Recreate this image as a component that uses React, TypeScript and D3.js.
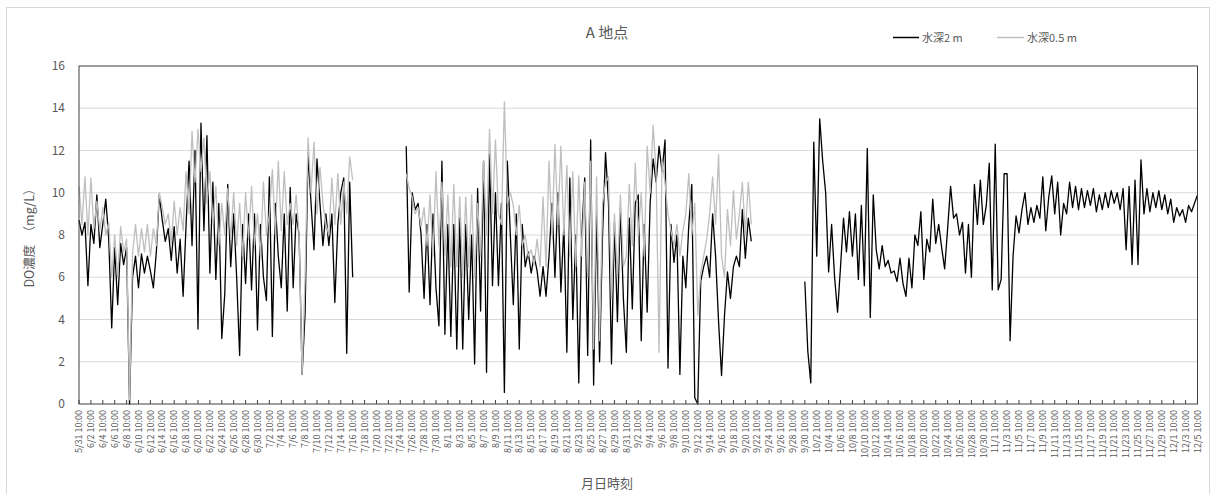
import React from "react";
import * as d3 from "d3";

// ---- data (values every 12 h) ----
const startDate = new Date(2021, 4, 31, 10, 0); // 5/31 10:00
const totalDays = 188; // to 12/5 10:00
const stepDays = 0.5;

const yTicks = [0, 2, 4, 6, 8, 10, 12, 14, 16];

// 水深2 m (black)
const deep2mSeg1Start = 0;
const deep2mSeg1 = [
  8.7, 8.0, 8.6, 5.6, 8.5, 7.6, 9.9, 7.4, 8.5, 9.7,
  7.8, 3.6, 7.4, 4.7, 7.6, 6.6, 7.4, 0.0, 6.0, 7.0,
  5.5, 7.1, 6.2, 7.0, 6.3, 5.5, 7.2, 9.9, 8.7, 7.7,
  8.3, 6.8, 8.4, 6.2, 7.8, 5.1, 8.5, 11.5, 7.5, 12.0,
  3.55, 13.3, 8.2, 12.7, 6.2, 10.5, 5.9, 9.5, 3.1, 5.2,
  10.4, 6.5, 9.0, 6.0, 2.3, 8.5, 5.7, 9.0, 5.4, 9.0,
  3.5, 8.5, 6.0, 4.9, 10.75, 3.2, 9.5, 7.0, 5.5, 9.0,
  4.4, 10.25, 5.5, 9.0, 8.0, 1.4, 4.3, 11.9, 9.5, 7.3,
  11.6, 9.5, 7.5, 9.0, 7.5, 9.0, 4.8, 8.5, 10.0, 10.7,
  2.4, 10.5, 6.0,
];
const deep2mSeg2Start = 55;
const deep2mSeg2 = [
  12.2, 5.3, 10.0, 9.2, 9.5, 8.0, 5.0, 8.5, 4.7, 9.0,
  5.5, 3.7, 11.5, 3.3, 8.5, 3.2, 8.5, 2.6, 8.8, 2.6,
  8.5, 4.0, 8.0, 1.9, 10.2, 4.4, 11.5, 1.5, 11.8, 5.6,
  10.0, 5.6, 9.5, 0.55, 11.5, 8.0, 4.7, 9.0, 2.6, 8.5,
  6.5, 7.2, 6.2, 7.0, 6.3, 5.1, 6.5, 5.1, 7.0, 9.5,
  6.0, 10.0, 5.3, 8.5, 2.45, 10.7, 4.0, 8.0, 1.0, 8.0,
  10.7, 2.3, 12.5, 0.9, 9.0, 2.0, 8.0, 11.9, 9.5, 1.9,
  8.6, 3.9, 9.3, 5.0, 2.45, 8.8, 4.5, 9.5, 9.9, 3.0,
  8.5, 4.35, 9.5, 11.6, 10.5, 12.2, 11.0, 12.5, 1.7, 8.5,
  6.7, 8.0, 1.4, 7.0, 5.5, 8.5, 10.4, 0.3, 0.0, 5.8,
  6.5, 7.0, 6.0, 9.0, 7.0, 3.9, 1.35, 4.2, 6.25, 5.0,
  6.5, 7.0, 6.5, 9.2, 6.9, 8.8, 7.7,
];
const deep2mSeg3Start = 122;
const deep2mSeg3 = [
  5.8, 2.5, 1.0, 12.4, 7.0, 13.5, 11.5, 10.0, 6.25, 8.5,
  6.0, 4.35, 6.5, 8.8, 7.2, 9.1, 7.0, 9.0, 5.9, 9.4,
  5.6, 12.1, 4.1, 9.9, 7.3, 6.4, 7.5, 6.5, 6.8, 6.2,
  6.3, 5.8, 6.9, 5.7, 5.1, 6.9, 5.5, 8.0, 7.5, 9.1,
  5.9, 7.8, 7.2, 9.7, 7.6, 8.5, 7.4, 6.4, 8.3, 10.3,
  8.8, 9.0, 8.0, 8.6, 6.2, 8.5, 6.0, 10.4, 8.5, 10.6,
  8.5, 9.4, 11.4, 5.4, 12.3, 5.4, 5.9, 10.9, 10.9, 3.0,
  7.0, 8.9, 8.1, 9.2, 10.0, 8.5, 9.3, 8.6, 9.4, 8.8,
  10.75, 8.2, 9.8, 10.8, 9.0, 10.5, 8.0, 9.5, 9.0, 10.5,
  9.3, 10.3, 9.2, 10.2, 9.3, 10.1, 9.4, 10.2, 9.1, 9.9,
  9.2, 10.0, 9.3, 10.1, 9.5, 10.0, 9.2, 10.2, 7.3, 10.3,
  6.6, 10.6, 6.6, 11.55, 9.0, 10.2, 9.1, 10.0, 9.3, 10.1,
  9.2, 9.9, 9.0, 9.7, 8.6, 9.3, 8.9, 9.2, 8.6, 9.4,
  9.1, 9.5, 9.9,
];

// 水深0.5 m (gray)
const shallowSeg1Start = 0;
const shallowSeg1 = [
  10.3, 8.5, 10.75, 8.0, 10.7, 8.3, 9.6, 8.2, 9.3, 8.0,
  8.6, 6.0, 8.0, 6.0, 8.4, 7.2, 7.8, 0.2, 7.1, 8.5,
  7.0, 8.3, 7.2, 8.5, 7.0, 8.3, 7.5, 10.0, 9.3, 8.5,
  9.0, 7.6, 9.6, 8.0, 9.3, 8.2, 11.0, 9.0, 12.9, 10.5,
  13.0, 11.0, 12.6, 9.5, 11.0, 8.5, 10.3, 7.5, 9.5, 8.0,
  10.2, 7.8, 10.0, 7.5, 9.5, 7.0, 10.0, 7.8, 10.3, 7.5,
  9.0, 7.0, 10.5, 8.0, 9.0, 11.1, 8.0, 11.5, 8.2, 11.0,
  8.5, 9.5, 8.5, 9.9, 8.0, 1.4, 6.0, 12.6, 10.0, 12.4,
  9.0, 11.2, 9.5, 8.5, 8.0, 10.7, 8.5, 10.9, 8.5, 10.5,
  9.0, 11.7, 10.6,
];
const shallowSeg2Start = 55;
const shallowSeg2 = [
  10.9, 10.2, 9.8, 9.0, 9.3, 8.4, 9.3, 7.5, 9.9, 7.0,
  11.0, 7.5, 10.5, 7.0, 9.9, 6.5, 10.4, 6.5, 9.8, 6.0,
  9.8, 6.5, 9.9, 6.0, 9.5, 7.0, 11.5, 8.0, 13.0, 9.0,
  12.5, 9.0, 8.5, 14.3, 9.5, 10.0, 9.4, 8.0, 9.4, 7.5,
  8.0, 7.0, 7.3, 6.6, 7.8, 6.5, 9.8, 6.5, 11.5, 8.0,
  12.3, 8.5, 12.2, 8.0, 11.3, 7.0, 11.0, 6.5, 10.8, 7.0,
  10.5, 6.0, 11.5, 2.6, 10.75, 3.0, 9.5, 10.5, 10.75, 5.0,
  9.0, 6.0, 9.9, 6.5, 7.0, 10.4, 7.5, 11.4, 8.0, 10.0,
  7.0, 12.2, 10.0, 13.2, 11.0, 2.45, 11.5, 10.5, 9.0, 8.2,
  7.5, 8.5, 7.0, 8.2, 9.0, 10.9, 8.0, 9.5, 4.2, 6.2,
  7.0, 7.8, 9.0, 10.75, 8.5, 11.8, 7.0, 6.0, 9.2, 7.5,
  10.1, 7.8, 9.0, 10.5, 8.0, 10.5, 8.5,
];

const seriesNames = ["水深2 m", "水深0.5 m"];
const seriesColors = ["#000000", "#bfbfbf"];

// ---- layout ----
const W = 1215;
const H = 494;
const plot = { left: 79, right: 1197.5, top: 66, bottom: 404 };
const textColor = "#595959";
const font = "'Noto Sans CJK JP', 'Noto Sans', sans-serif";

type Pt = { day: number; v: number };
const toPts = (start: number, vals: number[]): Pt[] =>
  vals.map((v, i) => ({ day: start + i * stepDays, v }));

export default function App() {
  const x = d3.scaleLinear().domain([0, totalDays]).range([plot.left, plot.right]);
  const y = d3.scaleLinear().domain([0, 16]).range([plot.bottom, plot.top]);
  const line = d3
    .line<Pt>()
    .x((d) => x(d.day))
    .y((d) => y(d.v));

  const blackSegs = [
    toPts(deep2mSeg1Start, deep2mSeg1),
    toPts(deep2mSeg2Start, deep2mSeg2),
    toPts(deep2mSeg3Start, deep2mSeg3),
  ];
  const graySegs = [toPts(shallowSeg1Start, shallowSeg1), toPts(shallowSeg2Start, shallowSeg2)];

  const fmt = d3.timeFormat("%-m/%-d %H:%M");
  const tickDays = d3.range(0, totalDays + 1, 2);
  const tickLabels = tickDays.map((d) => fmt(d3.timeDay.offset(startDate, d)));

  return (
    <svg
      width={W}
      height={H}
      style={{ position: "absolute", left: 0, top: 0, background: "#fff" }}
      fontFamily={font}
    >
      <rect x={6.5} y={7.5} width={1203} height={500} fill="#fff" stroke="#d9d9d9" />
      {/* gridlines */}
      {yTicks
        .filter((t) => t > 0 && t < 16)
        .map((t) => (
          <line key={t} x1={plot.left} x2={plot.right} y1={y(t)} y2={y(t)} stroke="#d9d9d9" strokeWidth={1} />
        ))}
      {/* series */}
      <g fill="none" strokeLinejoin="round">
        {blackSegs.map((s, i) => (
          <path key={"b" + i} d={line(s) || ""} stroke={seriesColors[0]} strokeWidth={1.3} />
        ))}
        {graySegs.map((s, i) => (
          <path key={"g" + i} d={line(s) || ""} stroke={seriesColors[1]} strokeWidth={1.3} />
        ))}
      </g>
      {/* frame */}
      <rect
        x={plot.left}
        y={plot.top}
        width={plot.right - plot.left}
        height={plot.bottom - plot.top}
        fill="none"
        stroke="#404040"
        strokeWidth={1}
      />
      {/* x ticks */}
      {tickDays.map((d) => (
        <line key={d} x1={x(d)} x2={x(d)} y1={plot.bottom} y2={plot.bottom - 4} stroke="#404040" />
      ))}
      {tickDays.map((d, i) => (
        <text
          key={"l" + d}
          transform={`translate(${x(d) + 3.2},${plot.bottom + 6}) rotate(-90)`}
          textAnchor="end"
          fontSize={9}
          fill={textColor}
        >
          {tickLabels[i]}
        </text>
      ))}
      {/* y ticks */}
      {yTicks.map((t) => (
        <text key={t} x={65} y={y(t)} dy="0.35em" textAnchor="end" fontSize={12} fill={textColor}>
          {t}
        </text>
      ))}
      {/* titles */}
      <text x={607} y={38} textAnchor="middle" fontSize={15} fill={textColor}>
        A 地点
      </text>
      <text
        transform={`translate(30,${(plot.top + plot.bottom) / 2}) rotate(-90)`}
        textAnchor="middle"
        dy="0.35em"
        fontSize={12.5}
        fill={textColor}
      >
        {"DO濃度\u3000（mg/L）"}
      </text>
      <text x={607} y={488} textAnchor="middle" fontSize={13} fill={textColor}>
        月日時刻
      </text>
      {/* legend */}
      <line x1={893} x2={919} y1={37.5} y2={37.5} stroke={seriesColors[0]} strokeWidth={1.5} />
      <text x={922} y={41.5} fontSize={11} fill={textColor}>
        {seriesNames[0]}
      </text>
      <line x1={997} x2={1024} y1={37.5} y2={37.5} stroke={seriesColors[1]} strokeWidth={1.5} />
      <text x={1027} y={41.5} fontSize={11} fill={textColor}>
        {seriesNames[1]}
      </text>
    </svg>
  );
}
